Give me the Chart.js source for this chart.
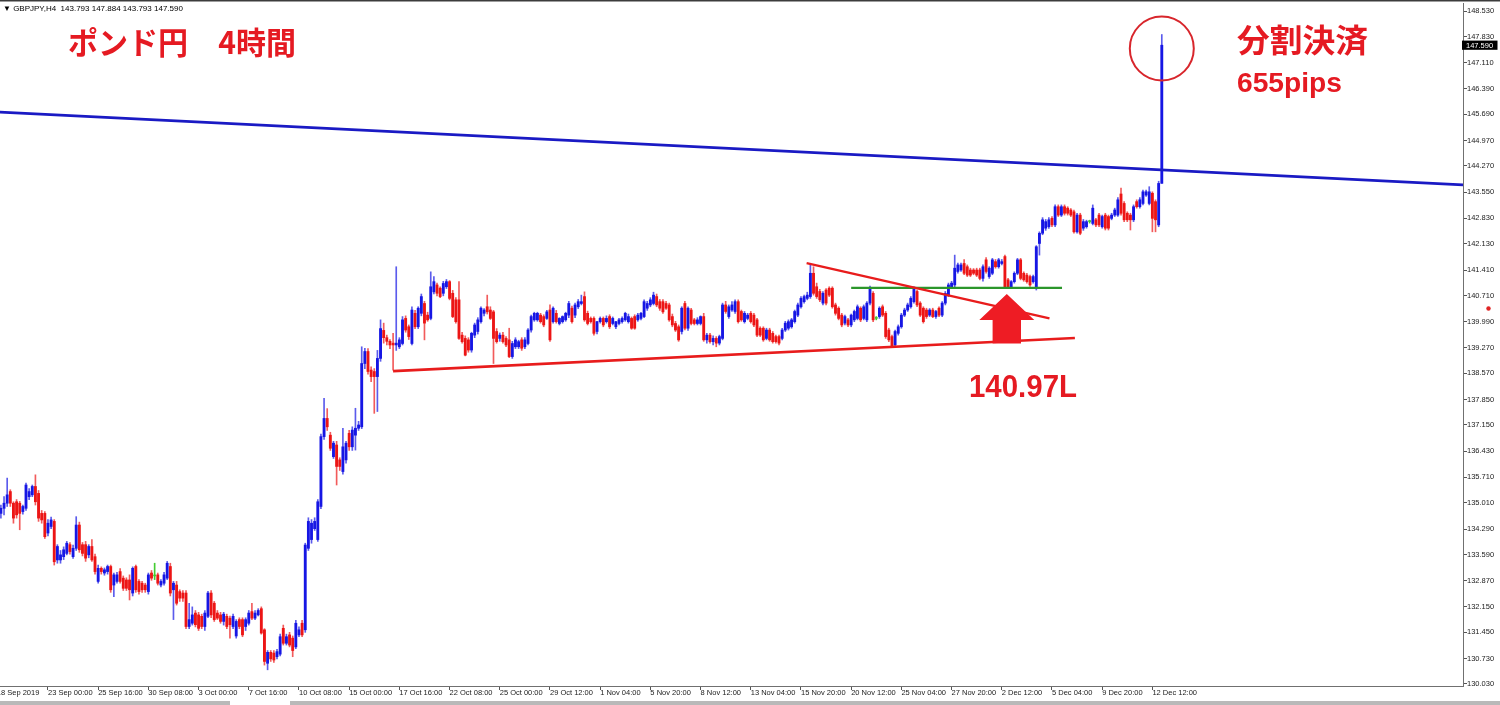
<!DOCTYPE html>
<html><head><meta charset="utf-8">
<script src="https://cdn.jsdelivr.net/npm/chart.js@4.4.1/dist/chart.umd.min.js"></script>
<style>html,body{margin:0;padding:0;background:#fff;overflow:hidden}canvas{display:block}</style>
</head><body>
<canvas id="c" width="1500" height="705"></canvas>
<script>
// GBPJPY H4, bar index 0 = 18 Sep 2019 12:00 ... 370 = 13 Dec 2019 00:00
const opens=[
134.72,134.86,135.00,135.32,135.00,135.04,135.00,134.77,134.86,135.18,
135.23,135.46,135.27,134.72,134.72,134.18,134.36,134.50,133.44,133.44,
133.53,133.62,133.86,133.53,133.76,134.40,133.86,133.86,133.58,133.81,
133.53,132.85,133.21,133.08,133.12,133.26,132.75,132.85,133.12,132.94,
132.89,132.89,132.53,133.26,132.85,132.80,132.75,132.57,133.08,133.00,
133.03,132.75,132.80,132.94,133.26,132.62,132.75,132.57,132.53,132.53,
131.61,131.70,131.98,131.93,131.89,131.61,131.89,132.53,132.25,131.98,
131.93,131.75,131.89,131.84,131.61,131.35,131.80,131.80,131.61,131.70,
132.02,131.84,131.93,132.10,131.52,130.60,130.90,130.88,130.78,130.85,
131.56,131.15,131.38,131.29,131.05,131.38,131.70,131.52,133.76,134.00,
134.30,134.00,134.91,136.83,137.33,136.87,136.28,136.60,136.19,135.87,
136.19,136.92,136.55,136.87,137.06,137.10,138.84,139.17,138.66,138.62,
138.48,138.98,139.75,139.55,139.45,139.40,139.35,139.30,139.39,140.08,
139.85,139.39,140.22,139.85,140.22,140.49,140.17,140.08,140.81,141.00,
140.91,140.77,140.95,141.09,140.77,140.59,140.59,139.62,139.53,139.49,
139.21,139.62,139.72,139.99,140.22,140.40,140.31,140.26,139.72,139.53,
139.62,139.53,139.49,139.03,139.30,139.30,139.49,139.30,139.39,139.76,
140.04,140.04,140.17,140.13,140.08,140.31,139.99,140.22,139.94,139.99,
140.04,140.17,140.36,140.17,140.40,140.49,140.68,140.22,140.08,140.08,
139.72,139.99,140.08,139.99,140.13,139.94,139.85,139.94,139.99,140.04,
139.99,140.08,140.13,140.04,140.08,140.13,140.36,140.45,140.49,140.68,
140.54,140.54,140.49,140.45,140.13,139.94,139.85,139.72,140.49,139.81,
140.31,140.04,139.94,139.94,140.13,139.49,139.62,139.44,139.53,139.40,
139.53,140.45,140.13,140.31,140.27,140.54,140.27,139.99,140.08,140.22,
140.17,140.04,139.81,139.81,139.53,139.76,139.67,139.58,139.58,139.53,
139.76,139.81,139.85,139.99,140.17,140.40,140.54,140.63,140.68,141.32,
140.95,140.82,140.50,140.86,140.91,140.91,140.45,140.36,140.17,139.95,
140.04,139.90,140.04,140.08,140.36,140.08,140.04,140.50,140.77,140.08,
140.13,140.40,140.22,139.76,139.58,139.35,139.67,139.85,140.17,140.31,
140.40,140.54,140.82,140.50,140.36,140.31,140.17,140.31,140.13,140.36,
140.17,140.50,140.72,140.95,141.00,141.37,141.41,141.59,141.50,141.41,
141.41,141.41,141.41,141.18,141.69,141.23,141.32,141.64,141.50,141.59,
141.78,141.14,140.95,141.09,141.32,141.69,141.32,141.27,141.23,141.09,
140.95,142.14,142.42,142.56,142.60,142.83,142.65,143.15,142.92,143.15,
143.11,143.06,143.01,142.46,142.92,142.56,142.60,142.74,142.69,142.79,
142.92,142.60,142.92,142.88,142.83,142.92,142.92,143.50,143.24,142.97,
142.92,142.79,143.29,143.15,143.24,143.47,143.24,143.52,143.29,142.65,
143.793];
const highs=[
134.95,135.18,135.69,135.37,135.04,135.10,135.05,134.95,135.55,135.40,
135.50,135.78,135.35,134.80,134.77,134.55,134.62,134.55,133.86,133.70,
133.80,133.95,133.92,133.85,134.63,134.48,133.92,133.95,133.86,134.00,
133.60,133.30,133.25,133.22,133.30,133.30,133.08,133.10,133.20,133.00,
132.95,133.03,133.25,133.30,132.90,132.85,132.80,133.08,133.15,133.35,
133.08,132.90,133.10,133.40,133.35,132.85,132.85,132.62,132.60,132.60,
132.25,132.15,132.05,132.00,131.95,132.05,132.58,132.60,132.30,132.05,
132.00,132.00,131.95,131.90,131.95,131.80,131.85,131.85,131.85,132.05,
132.25,132.05,132.10,132.15,131.55,130.95,130.95,130.95,130.98,131.40,
131.65,131.40,131.45,131.35,131.78,131.60,131.78,133.90,134.60,134.55,
134.60,135.10,136.90,137.88,137.60,136.95,136.70,136.70,136.25,137.06,
136.70,137.00,137.10,137.61,137.25,139.30,139.26,139.25,138.75,138.70,
139.20,140.04,139.95,139.62,139.50,139.67,141.50,139.55,140.13,140.15,
139.90,140.40,140.30,140.40,140.75,140.55,140.25,141.36,141.23,141.05,
140.95,141.10,141.15,141.12,140.85,140.65,141.09,139.70,139.60,139.55,
139.70,139.95,140.10,140.40,140.35,140.72,140.40,140.30,139.80,139.68,
139.70,139.58,139.81,139.45,139.55,139.48,139.55,139.55,139.80,140.17,
140.25,140.25,140.22,140.18,140.30,140.45,140.40,140.30,140.10,140.15,
140.25,140.55,140.42,140.50,140.60,140.72,140.81,140.28,140.12,140.12,
140.00,140.12,140.12,140.15,140.18,140.12,140.00,140.08,140.12,140.25,
140.20,140.12,140.18,140.22,140.25,140.59,140.55,140.65,140.80,140.75,
140.60,140.60,140.55,140.50,140.20,140.00,139.90,140.40,140.55,140.40,
140.36,140.08,140.10,140.15,140.22,139.67,139.67,139.60,139.58,139.62,
140.50,140.55,140.45,140.54,140.59,140.59,140.31,140.27,140.22,140.27,
140.22,140.08,139.85,139.85,139.81,139.81,139.72,139.62,139.62,139.81,
140.00,140.04,140.08,140.31,140.50,140.68,140.72,140.80,141.55,141.50,
141.05,140.88,140.82,140.90,140.95,140.95,140.50,140.40,140.22,140.17,
140.08,140.20,140.31,140.45,140.40,140.45,140.54,140.97,140.82,140.13,
140.40,140.45,140.27,139.81,139.62,139.76,139.90,140.22,140.36,140.50,
140.68,140.95,140.86,140.54,140.40,140.36,140.35,140.36,140.30,140.40,
140.54,140.82,141.05,141.10,141.82,141.60,141.60,141.70,141.55,141.46,
141.45,141.46,141.46,141.55,141.75,141.50,141.73,141.70,141.73,141.70,
141.82,141.18,141.12,141.36,141.73,141.73,141.36,141.32,141.27,141.27,
142.08,142.46,142.85,142.80,142.85,142.88,143.20,143.20,143.20,143.20,
143.15,143.10,143.06,142.97,142.97,142.80,142.78,142.78,143.20,142.83,
142.97,142.92,142.97,142.92,142.97,143.11,143.40,143.66,143.29,143.01,
142.97,143.20,143.34,143.40,143.61,143.61,143.70,143.56,143.34,143.85,
147.884];
const lows=[
134.59,134.68,134.91,134.91,134.45,134.59,134.27,134.70,134.80,135.10,
135.18,134.95,134.50,134.45,134.03,134.10,134.30,133.30,133.35,133.35,
133.45,133.58,133.60,133.48,133.70,133.65,133.55,133.40,133.50,133.40,
133.05,132.80,133.05,133.02,133.05,132.55,132.43,132.80,132.80,132.60,
132.60,132.34,132.45,132.55,132.50,132.55,132.55,132.50,132.88,132.90,
132.75,132.70,132.75,132.90,132.45,131.80,132.20,132.30,132.30,131.55,
131.55,131.65,131.60,131.50,131.55,131.50,131.85,131.85,131.75,131.80,
131.70,131.65,131.55,131.29,131.55,131.29,131.55,131.33,131.50,131.65,
131.80,131.80,131.90,131.40,130.55,130.42,130.65,130.62,130.72,130.80,
131.10,131.10,131.05,130.78,131.00,131.33,131.33,131.45,133.70,133.90,
134.25,133.95,134.85,136.75,137.00,136.45,136.23,135.50,135.90,135.80,
136.10,136.45,136.45,136.46,137.00,137.05,138.70,138.55,138.34,137.47,
137.52,138.90,139.40,139.35,139.25,138.66,139.20,139.25,139.35,139.70,
139.50,139.35,139.80,139.80,140.15,139.49,140.00,140.04,140.75,140.70,
140.65,140.70,140.90,140.59,140.10,139.95,139.50,139.40,139.05,139.15,
139.15,139.55,139.65,139.95,140.15,140.20,140.05,138.84,139.40,139.45,
139.40,139.30,139.00,138.98,139.25,139.25,139.20,139.25,139.35,139.70,
140.00,140.00,139.95,139.85,140.05,139.45,139.95,139.95,139.90,139.95,
140.00,140.10,139.95,140.10,140.35,140.45,140.00,139.90,139.95,139.62,
139.65,139.95,139.85,139.95,139.80,139.90,139.80,139.90,139.95,140.00,
139.95,139.78,139.78,140.00,140.04,140.10,140.30,140.40,140.45,140.40,
140.30,140.22,140.33,140.00,139.85,139.72,139.45,139.65,139.76,139.75,
139.90,139.90,139.90,139.90,139.45,139.40,139.40,139.35,139.30,139.35,
139.49,140.22,140.08,140.27,140.22,139.95,140.00,139.95,140.04,139.95,
139.85,139.58,139.58,139.45,139.49,139.45,139.40,139.40,139.35,139.49,
139.72,139.76,139.81,139.95,140.13,140.36,140.50,140.59,140.63,140.72,
140.63,140.54,140.45,140.45,140.68,140.36,140.17,140.04,139.85,139.90,
139.85,139.85,139.99,140.04,139.99,140.04,139.99,140.45,139.99,140.04,
140.08,140.13,139.53,139.44,139.28,139.30,139.62,139.81,140.13,140.27,
140.36,140.50,140.40,140.13,139.95,140.08,140.13,140.10,140.08,140.13,
140.13,140.45,140.68,140.90,140.95,141.32,141.37,141.28,141.23,141.23,
141.28,141.23,141.14,141.10,141.32,141.18,141.28,141.46,141.46,141.55,
140.91,140.91,140.90,141.05,141.28,141.14,141.10,141.05,140.96,141.05,
140.86,141.82,142.38,142.50,142.55,142.60,142.60,142.88,142.88,142.92,
142.92,142.88,142.42,142.42,142.38,142.50,142.56,142.70,142.65,142.60,
142.60,142.56,142.51,142.51,142.79,142.88,142.88,142.92,142.74,142.74,
142.51,142.74,143.11,143.11,143.20,143.43,143.20,142.46,142.46,142.60,
143.793];
const closes=[
134.86,135.00,135.23,135.00,134.59,134.68,134.72,134.91,135.50,135.32,
135.46,135.04,134.59,134.54,134.08,134.45,134.54,133.39,133.81,133.58,
133.72,133.90,133.67,133.76,134.40,133.72,133.62,133.49,133.81,133.44,
133.12,133.21,133.12,133.17,133.26,132.62,133.03,133.03,132.85,132.66,
132.66,132.62,133.21,132.62,132.57,132.62,132.62,133.03,132.94,133.00,
132.80,132.85,133.03,133.35,132.53,132.80,132.25,132.39,132.39,131.61,
131.80,131.93,131.66,131.56,131.61,131.98,132.53,131.93,131.80,131.84,
131.75,131.95,131.61,131.66,131.89,131.75,131.61,131.38,131.80,131.98,
131.84,131.98,132.05,131.43,130.65,130.90,130.72,130.69,130.92,131.33,
131.15,131.33,131.10,130.95,131.70,131.52,131.38,133.85,134.50,134.45,
134.50,135.04,136.83,137.33,137.10,136.51,136.65,136.01,136.01,136.55,
136.65,136.55,137.01,137.06,137.15,138.84,139.17,138.62,138.48,138.48,
138.98,139.80,139.55,139.45,139.35,139.35,139.40,139.49,140.04,139.76,
139.58,140.31,139.85,140.36,140.68,139.95,140.04,140.95,141.09,140.77,
140.68,141.04,141.09,140.63,140.13,139.99,139.53,139.44,139.07,139.21,
139.67,139.90,140.04,140.36,140.31,140.26,140.08,139.53,139.44,139.62,
139.44,139.35,139.03,139.39,139.49,139.44,139.26,139.49,139.76,140.13,
140.22,140.22,139.99,139.90,140.26,139.49,140.36,139.99,140.08,140.13,
140.22,140.49,139.99,140.45,140.54,140.54,140.04,139.94,139.99,139.67,
139.99,140.08,139.90,140.08,139.85,140.08,139.99,140.04,140.08,140.22,
140.13,139.81,139.81,140.17,140.22,140.54,140.49,140.59,140.72,140.45,
140.36,140.26,140.36,140.04,139.90,139.76,139.49,140.36,139.81,140.36,
139.94,139.94,140.04,140.13,139.49,139.62,139.44,139.53,139.40,139.58,
140.45,140.27,140.40,140.45,140.54,139.99,140.04,140.22,140.17,139.99,
139.90,139.62,139.62,139.49,139.76,139.49,139.44,139.44,139.40,139.76,
139.95,139.99,140.04,140.27,140.45,140.63,140.68,140.72,141.32,140.77,
140.68,140.59,140.77,140.50,140.72,140.40,140.22,140.08,139.90,140.13,
139.90,140.17,140.27,140.40,140.04,140.40,140.50,140.91,140.04,140.08,
140.36,140.17,139.58,139.49,139.30,139.72,139.85,140.17,140.31,140.45,
140.63,140.91,140.45,140.17,139.99,140.13,140.31,140.13,140.27,140.17,
140.50,140.77,141.00,141.05,141.46,141.55,141.55,141.32,141.27,141.27,
141.32,141.27,141.18,141.50,141.37,141.46,141.69,141.50,141.69,141.64,
140.95,140.95,141.09,141.32,141.69,141.18,141.14,141.09,141.00,141.23,
142.05,142.42,142.79,142.74,142.79,142.65,143.15,142.92,143.15,142.97,
142.97,142.92,142.46,142.92,142.42,142.74,142.74,142.74,143.11,142.65,
142.65,142.88,142.56,142.56,142.92,143.06,143.34,142.97,142.79,142.79,
142.79,143.15,143.15,143.34,143.56,143.56,143.56,142.83,142.79,143.79,
147.590];

const yTickValues=[130.030,130.730,131.450,132.150,132.870,133.590,134.290,135.010,135.710,136.430,137.150,137.850,138.570,139.270,139.990,140.710,141.410,142.130,142.830,143.550,144.270,144.970,145.690,146.390,147.110,147.830,148.530];
const xTickLabels=["18 Sep 2019","23 Sep 00:00","25 Sep 16:00","30 Sep 08:00","3 Oct 00:00","7 Oct 16:00","10 Oct 08:00","15 Oct 00:00","17 Oct 16:00","22 Oct 08:00","25 Oct 00:00","29 Oct 12:00","1 Nov 04:00","5 Nov 20:00","8 Nov 12:00","13 Nov 04:00","15 Nov 20:00","20 Nov 12:00","25 Nov 04:00","27 Nov 20:00","2 Dec 12:00","5 Dec 04:00","9 Dec 20:00","12 Dec 12:00"];
const xTickIndex=[-1.3,15,31,47,63,79,95,111,127,143,159,175,191,207,223,239,255,271,287,303,319,335,351,367];

// drawn objects (bar index, price)
const blueTrend=[[-0.3,145.75],[466.0,143.75]];
const redSupport=[[125.0,138.63],[342.3,139.54]];
const redResistance=[[256.8,141.60],[334.2,140.08]];
const greenLevel=[[271.0,140.92],[338.2,140.92]];
const arrowTip=[320.6,140.75];
const circleCenter=[370,147.50];

const BULL='#1616e4', BEAR='#ec1515', DOJI='#44cc33';
const BULLW='rgba(22,22,228,0.7)', BEARW='rgba(236,21,21,0.7)';
const colorOf=i=>closes[i]>opens[i]?BULL:(closes[i]<opens[i]?BEAR:DOJI);
const wickColorOf=i=>closes[i]>opens[i]?BULLW:(closes[i]<opens[i]?BEARW:DOJI);

const wickData=closes.map((c,i)=>({x:i,y:[lows[i],highs[i]]}));
const bodyData=closes.map((c,i)=>({x:i,y:[opens[i],c]}));
const pts=a=>a.map(p=>({x:p[0],y:p[1]}));

const last=closes.length-1;
const AXFONT={family:'"Liberation Sans", Arial, sans-serif',size:7.5};

function fitText(ctx,txt,x,y,w,font,color,baseline){
  ctx.save();
  ctx.font=font; ctx.fillStyle=color; ctx.textAlign='left'; ctx.textBaseline=baseline||'middle';
  const m=ctx.measureText(txt).width;
  ctx.translate(x,y); ctx.scale(w/m,1);
  ctx.fillText(txt,0,0);
  ctx.restore();
}

const overlay={
  id:'overlay',
  afterDraw(chart){
    const {ctx,scales:{x,y}}=chart;
    ctx.save();
    // window frame
    ctx.fillStyle='#3c3c3c'; ctx.fillRect(0,0,1500,1.5);
    ctx.fillStyle='#b9b9b9'; ctx.fillRect(0,701,1500,4);
    ctx.fillStyle='#ffffff'; ctx.fillRect(230,701,60,4);
    // info line
    ctx.fillStyle='#000'; ctx.font='8px "Liberation Sans", Arial, sans-serif';
    ctx.textBaseline='middle'; ctx.textAlign='left';
    ctx.fillText('\u25BC GBPJPY,H4  '+opens[last].toFixed(3)+' '+highs[last].toFixed(3)+' '+lows[last].toFixed(3)+' '+closes[last].toFixed(3),3,8.5);
    // current price tag
    const py=y.getPixelForValue(closes[last]);
    ctx.fillStyle='#000'; ctx.fillRect(1462,py-4.6,35.5,9.2);
    ctx.fillStyle='#fff'; ctx.font='7.5px "Liberation Sans", Arial, sans-serif';
    ctx.textAlign='left'; ctx.fillText(closes[last].toFixed(3),1466,py+0.3);
    // small red marker
    ctx.fillStyle='#e02424'; ctx.beginPath(); ctx.arc(1488.5,308.5,2.2,0,Math.PI*2); ctx.fill();
    // circle around the spike
    const cx=x.getPixelForValue(circleCenter[0]), cy=y.getPixelForValue(circleCenter[1]);
    ctx.strokeStyle='#d8262c'; ctx.lineWidth=2; ctx.beginPath(); ctx.arc(cx,cy,32,0,Math.PI*2); ctx.stroke();
    // arrow
    const ax=x.getPixelForValue(arrowTip[0]), ay=y.getPixelForValue(arrowTip[1]);
    ctx.fillStyle='#ee1c24'; ctx.beginPath();
    ctx.moveTo(ax,ay); ctx.lineTo(ax+27.5,ay+26); ctx.lineTo(ax+14.2,ay+26); ctx.lineTo(ax+14.2,ay+49.5);
    ctx.lineTo(ax-14.2,ay+49.5); ctx.lineTo(ax-14.2,ay+26); ctx.lineTo(ax-27.5,ay+26); ctx.closePath(); ctx.fill();
    // texts
    const RED='#e51a22';
    fitText(ctx,'ポンド円\u30004時間',68,42,228,'bold 31px "Noto Sans CJK JP", sans-serif',RED);
    fitText(ctx,'分割決済',1237,40,131,'bold 32px "Noto Sans CJK JP", sans-serif',RED);
    fitText(ctx,'655pips',1237,92,105,'bold 28px "Liberation Sans", Arial, sans-serif',RED,'alphabetic');
    fitText(ctx,'140.97L',969,397,108,'bold 32px "Liberation Sans", Arial, sans-serif',RED,'alphabetic');
    ctx.restore();
  }
};

new Chart(document.getElementById('c'),{
  type:'bar',
  data:{datasets:[
    {type:'bar',data:wickData,backgroundColor:closes.map((c,i)=>wickColorOf(i)),barThickness:1,grouped:false,borderWidth:0,order:4},
    {type:'bar',data:bodyData,backgroundColor:closes.map((c,i)=>colorOf(i)),barThickness:2.2,grouped:false,borderWidth:0,minBarLength:1,order:3},
    {type:'line',data:pts(blueTrend),borderColor:'#1a1ac4',borderWidth:2.6,pointRadius:0,fill:false,order:1},
    {type:'line',data:pts(redSupport),borderColor:'#e81c1c',borderWidth:2.6,pointRadius:0,fill:false,order:1},
    {type:'line',data:pts(redResistance),borderColor:'#e81c1c',borderWidth:2.2,pointRadius:0,fill:false,order:1},
    {type:'line',data:pts(greenLevel),borderColor:'#2b962b',borderWidth:2.2,pointRadius:0,fill:false,order:1}
  ]},
  options:{
    responsive:false,animation:false,devicePixelRatio:1,events:[],
    layout:{padding:{top:3,left:0,right:0,bottom:0}},
    plugins:{legend:{display:false},tooltip:{enabled:false},title:{display:false}},
    scales:{
      x:{type:'linear',min:-0.287,max:466.0,offset:false,
        grid:{display:true,drawOnChartArea:false,drawTicks:true,tickLength:4,color:'#555',offset:false},
        border:{display:true,color:'#707070',width:1},
        ticks:{autoSkip:false,maxRotation:0,minRotation:0,align:'start',padding:-2,color:'#1a1a1a',font:AXFONT,
          callback:(v,i)=>xTickLabels[i]},
        afterBuildTicks:s=>{s.ticks=xTickIndex.map(v=>({value:v}));},
        afterFit:s=>{s.height=19;s.paddingLeft=0;s.paddingRight=0;}
      },
      y:{type:'linear',position:'right',min:129.975,max:148.75,
        grid:{display:true,drawOnChartArea:false,drawTicks:true,tickLength:4,color:'#555'},
        border:{display:true,color:'#707070',width:1},
        ticks:{autoSkip:false,padding:0,color:'#1a1a1a',font:AXFONT,callback:v=>v.toFixed(3)},
        afterBuildTicks:s=>{s.ticks=yTickValues.map(v=>({value:v}));},
        afterFit:s=>{s.width=37;s.paddingTop=0;s.paddingBottom=0;}
      }
    }
  },
  plugins:[overlay]
});
</script>
</body></html>
